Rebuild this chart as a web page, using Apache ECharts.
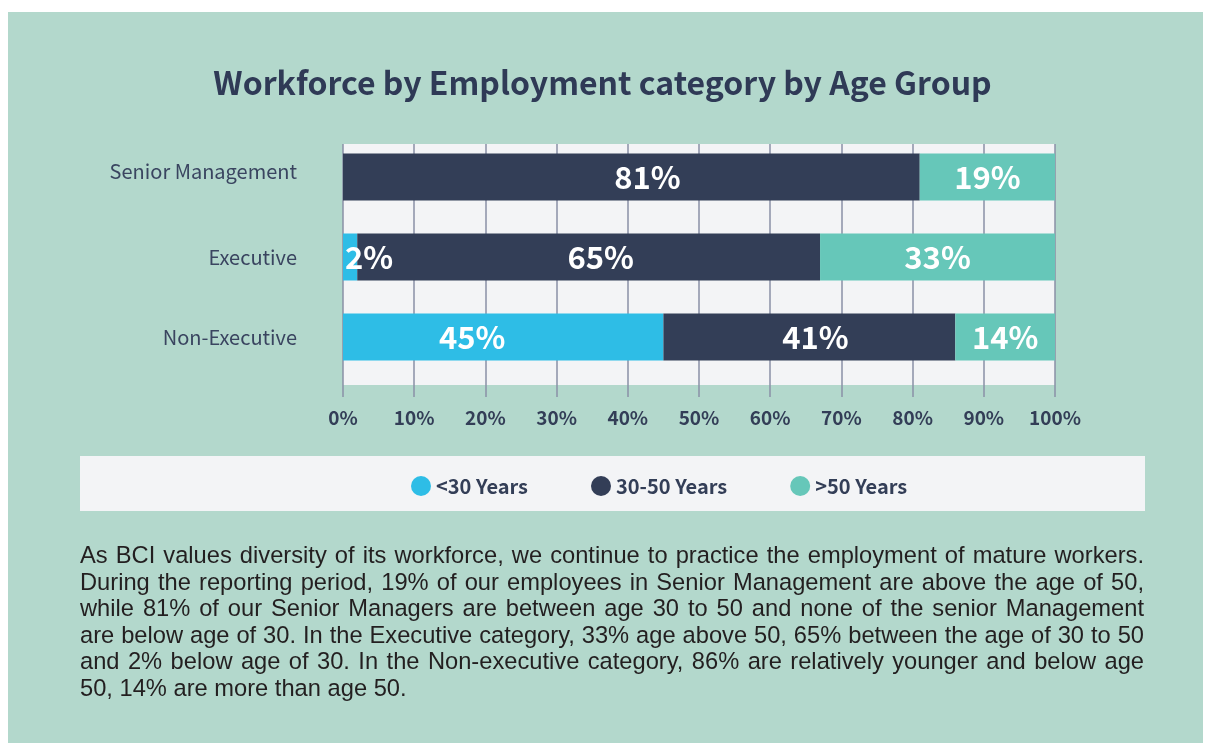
<!DOCTYPE html>
<html>
<head>
<meta charset="utf-8">
<script src="https://cdn.jsdelivr.net/npm/echarts@6/dist/echarts.min.js"></script>
<style>
  html, body { margin: 0; padding: 0; background: #ffffff; }
  #wrap { position: relative; width: 1205px; height: 745px; }
  #chart { position: absolute; left: 0; top: 0; width: 1205px; height: 745px; }
  #note {
    position: absolute; left: 80px; top: 542px; width: 1064px;
    font-family: "Liberation Sans", Arial, sans-serif; font-size: 23.7px;
    line-height: 26.6px; color: #231f20;
  }
  #note .ln { text-align: justify; text-align-last: justify; white-space: nowrap; }
  #note .ln.last { text-align-last: left; }
</style>
</head>
<body>
<div id="wrap">
  <div id="chart"></div>
  <div id="note">
    <div class="ln">As BCI values diversity of its workforce, we continue to practice the employment of mature workers.</div>
    <div class="ln">During the reporting period, 19% of our employees in Senior Management are above the age of 50,</div>
    <div class="ln">while 81% of our Senior Managers are between age 30 to 50 and none of the senior Management</div>
    <div class="ln">are below age of 30. In the Executive category, 33% age above 50, 65% between the age of 30 to 50</div>
    <div class="ln">and 2% below age of 30. In the Non-executive category, 86% are relatively younger and below age</div>
    <div class="ln last">50, 14% are more than age 50.</div>
  </div>
</div>
<script>
// data
const categories = ['Senior Management', 'Executive', 'Non-Executive'];
const seriesNames = ['<30 Years', '30-50 Years', '>50 Years'];
const under30 = [0, 2, 45];
const age30to50 = [81, 65, 41];
const over50 = [19, 33, 14];
const xTicks = [0, 10, 20, 30, 40, 50, 60, 70, 80, 90, 100];

const NAVY = '#333e57';
const CYAN = '#2ebde6';
const TEAL = '#66c7b9';
const MINT = '#b3d8cc';
const PANEL = '#f3f4f6';
const LINE = '#8a90a6';
const SANS = '"Noto Sans CJK SC", "Open Sans", sans-serif';

const chart = echarts.init(document.getElementById('chart'));

// bold numbers inside the bars
const valueLabel = {
  show: true,
  position: 'inside',
  color: '#ffffff',
  fontFamily: '"Liberation Sans Narrow", ' + SANS,
  fontWeight: 'bold',
  fontSize: 31,
  formatter: p => (p.value > 0 ? p.value + '%' : '')
};

// small nudges so labels sit where the original puts them
const nudge = (arr, shifts) => arr.map((v, i) => ({
  value: v,
  label: shifts[i] ? {offset: [shifts[i], 0]} : undefined
}));

const catFont = {color: '#3a4560', fontFamily: SANS, fontSize: 20};

const option = {
  backgroundColor: '#ffffff',
  animation: false,
  graphic: [
    {type: 'rect', z: -20, shape: {x: 8, y: 12, width: 1195, height: 731}, style: {fill: MINT}},
    {type: 'rect', z: -10, shape: {x: 80, y: 456, width: 1065, height: 55}, style: {fill: PANEL}}
  ],
  title: {
    text: 'Workforce by Employment category by Age Group',
    left: 'center',
    top: 62,
    textStyle: {
      fontFamily: SANS,
      fontWeight: 'bold',
      fontSize: 32,
      color: '#2f3a56'
    }
  },
  legend: {
    data: seriesNames,
    icon: 'circle',
    itemWidth: 20,
    itemHeight: 20,
    itemGap: 63,
    left: 406,
    top: 471,
    textStyle: {
      fontFamily: SANS,
      fontWeight: 'bold',
      fontSize: 20,
      color: NAVY
    }
  },
  grid: [
    {left: 343, right: 150, top: 137, height: 240},
    {left: 343, right: 150, top: 144, height: 241, show: true, backgroundColor: PANEL, borderWidth: 0, z: -5}
  ],
  xAxis: [
    {gridIndex: 0, type: 'value', min: 0, max: 100, show: false},
    {
      gridIndex: 1, type: 'value', min: xTicks[0], max: xTicks[xTicks.length - 1], interval: 10,
      axisLine: {show: false},
      axisTick: {show: true, length: 12, lineStyle: {color: LINE, width: 1.5}},
      splitLine: {show: true, lineStyle: {color: LINE, width: 1.5}},
      axisLabel: {
        margin: 23,
        color: NAVY,
        fontFamily: SANS,
        fontWeight: 'bold',
        fontSize: 19,
        formatter: '{value}%'
      }
    }
  ],
  yAxis: [
    {
      gridIndex: 0, type: 'category', inverse: true,
      data: categories,
      axisLine: {show: false},
      axisTick: {show: false},
      axisLabel: Object.assign({
        margin: 46,
        formatter: (v, i) => (i === 0 ? '{up|' + v + '}' : v),
        rich: {up: Object.assign({padding: [0, 0, 11, 0]}, catFont)}
      }, catFont)
    },
    {gridIndex: 1, type: 'value', show: false}
  ],
  series: [
    {
      name: seriesNames[0], type: 'bar', stack: 'all', barWidth: 47,
      xAxisIndex: 0, yAxisIndex: 0,
      itemStyle: {color: CYAN},
      label: valueLabel,
      data: under30.map((v, i) => ({
        value: v,
        label: i === 1 ? {position: 'insideLeft', distance: 2} : (i === 2 ? {offset: [-31, 0]} : undefined)
      }))
    },
    {
      name: seriesNames[1], type: 'bar', stack: 'all', barWidth: 47,
      xAxisIndex: 0, yAxisIndex: 0,
      itemStyle: {color: NAVY},
      label: valueLabel,
      data: nudge(age30to50, [16, 12, 6])
    },
    {
      name: seriesNames[2], type: 'bar', stack: 'all', barWidth: 47,
      xAxisIndex: 0, yAxisIndex: 0,
      itemStyle: {color: TEAL},
      label: valueLabel,
      data: over50
    }
  ]
};

chart.setOption(option);
window.addEventListener('resize', () => chart.resize());
</script>
</body>
</html>
